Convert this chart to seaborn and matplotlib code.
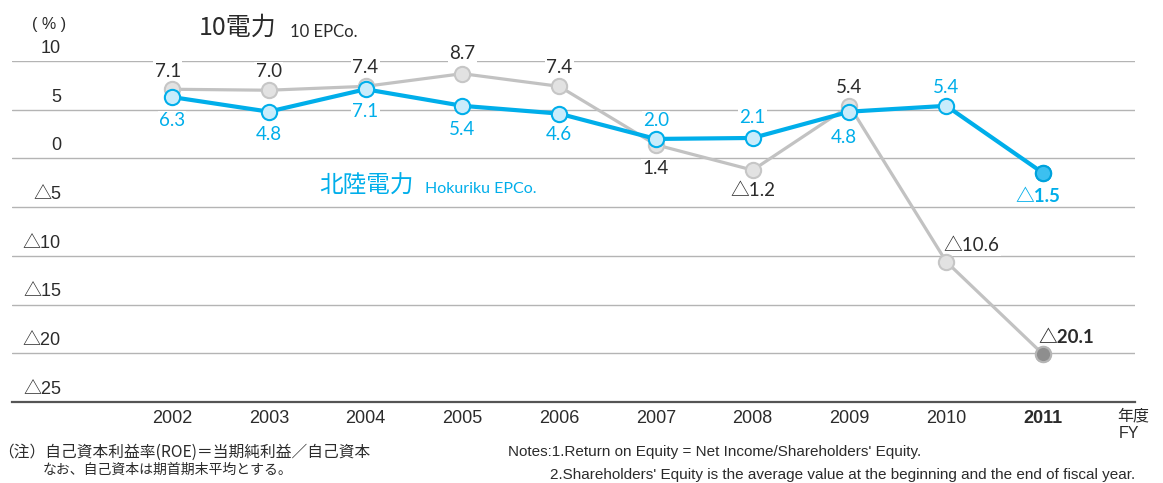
import matplotlib
matplotlib.use("Agg")
import matplotlib.pyplot as plt
import pandas as pd
import seaborn as sns

years = ["2002", "2003", "2004", "2005", "2006", "2007", "2008", "2009", "2010", "2011"]
epco_10 = [7.1, 7.0, 7.4, 8.7, 7.4, 1.4, -1.2, 5.4, -10.6, -20.1]
hokuriku = [6.3, 4.8, 7.1, 5.4, 4.6, 2.0, 2.1, 4.8, 5.4, -1.5]
y_ticks = [10, 5, 0, -5, -10, -15, -20, -25]

# label placement in points (dx, dy) relative to each marker
epco_offsets = [(-3, 13), (0, 13.5), (0, 13.5), (0, 14.5), (0, 13.5),
                (0, -17), (0, -14.5), (0, 13), (18, 11.5), (16.5, 12)]
hokuriku_offsets = [(0, -17), (0, -16.5), (0, -16), (0, -17), (0, -15),
                    (0, 13), (0, 14.5), (-4, -18.5), (0, 13.5), (-4, -17)]

BLUE = "#00aeea"
GRAY = "#c2c2c2"
DARK = "#2b2b2b"
JP = ["Noto Sans CJK JP", "DejaVu Sans"]

sns.set_style("white")
plt.rcParams["font.family"] = ["Lato", "Noto Sans CJK JP", "DejaVu Sans"]


def fmt(v):
    return f"△{abs(v):.1f}" if v < 0 else f"{v:.1f}"


W, H = 1163, 483
fig = plt.figure(figsize=(W / 100, H / 100), dpi=100)
ax = fig.add_axes([12 / W, 81 / H, 1123 / W, 341 / H])

df = pd.DataFrame({"pos": range(len(years)), "epco": epco_10, "hokuriku": hokuriku})

sns.lineplot(data=df, x="pos", y="epco", ax=ax, color=GRAY, lw=2.3, marker="o",
             markersize=11, markerfacecolor="#e2e2e2", markeredgecolor="#c6c6c6",
             markeredgewidth=1.5, zorder=4)
sns.lineplot(data=df, x="pos", y="hokuriku", ax=ax, color=BLUE, lw=3, marker="o",
             markersize=11, markerfacecolor="#c9ecfb", markeredgecolor=BLUE,
             markeredgewidth=1.5, zorder=5)
last = df.tail(1)
sns.scatterplot(data=last, x="pos", y="epco", ax=ax, s=120, color="#8e8e8e",
                edgecolor="#b5b5b5", linewidth=1.5, zorder=6)
sns.scatterplot(data=last, x="pos", y="hokuriku", ax=ax, s=120, color="#3cc0f0",
                edgecolor="#00a2dc", linewidth=1.5, zorder=6)

ax.set_xlim(-1.653, 9.95)
ax.set_ylim(-25, 10)
ax.set_yticks(y_ticks)
ax.set_yticklabels([])
ax.tick_params(axis="y", length=0)
ax.yaxis.grid(True, color="#b4b4b4", lw=1)
ax.set_axisbelow(True)
for side in ["top", "left", "right"]:
    ax.spines[side].set_visible(False)
ax.spines["bottom"].set_color("#555555")
ax.spines["bottom"].set_linewidth(1.6)
ax.set_xlabel("")
ax.set_ylabel("")

ax.set_xticks(range(len(years)))
ax.set_xticklabels(years, fontsize=13, family="Liberation Sans", color=DARK)
ax.get_xticklabels()[-1].set_fontweight("bold")
ax.tick_params(axis="x", length=0, pad=6)

for v in y_ticks:
    ax.annotate(fmt(v).replace(".0", ""), (-1.147, v), xytext=(0, 3), textcoords="offset points",
                ha="right", va="bottom", fontsize=13, color=DARK,
                family=["Liberation Sans", "Noto Sans CJK JP"])

box = dict(facecolor="white", edgecolor="none", pad=1)
for i, v in enumerate(epco_10):
    bold = i == len(years) - 1
    ax.annotate(fmt(v), (i, v), xytext=epco_offsets[i], textcoords="offset points",
                ha="center", va="center", fontsize=13.5, color=DARK,
                fontweight="bold" if bold else "normal", bbox=box, zorder=3)
for i, v in enumerate(hokuriku):
    bold = i == len(years) - 1
    ax.annotate(fmt(v), (i, v), xytext=hokuriku_offsets[i], textcoords="offset points",
                ha="center", va="center", fontsize=13.5, color=BLUE,
                fontweight="bold" if bold else "normal", bbox=box, zorder=3)


def px(x, y):
    return x / W, 1 - y / H


fig.text(*px(32, 25), "( % )", fontsize=11.5, color=DARK, family="Liberation Sans", va="center")
fig.text(*px(199, 28), "10電力", fontsize=18, color=DARK, family=JP, va="center")
fig.text(*px(290, 32), "10 EPCo.", fontsize=12, color=DARK, va="center")
fig.text(*px(319, 186), "北陸電力", fontsize=17, color=BLUE, family=JP, va="center")
fig.text(*px(425, 189), "Hokuriku EPCo.", fontsize=11.5, color=BLUE, va="center")
fig.text(*px(1117, 416), "年度", fontsize=11.5, color=DARK, family=JP, va="center")
fig.text(*px(1119, 434), "FY", fontsize=11.5, color=DARK, family="Liberation Sans", va="center")

fig.text(*px(-2, 452), "（注）自己資本利益率(ROE)＝当期純利益／自己資本", fontsize=11.3,
         color=DARK, family=JP, va="center")
fig.text(*px(43, 470), "なお、自己資本は期首期末平均とする。", fontsize=10,
         color=DARK, family=JP, va="center")
fig.text(*px(508, 452), "Notes:1.Return on Equity = Net Income/Shareholders' Equity.",
         fontsize=11, color=DARK, family="Liberation Sans", va="center")
fig.text(*px(550, 475), "2.Shareholders' Equity is the average value at the beginning and the end of fiscal year.",
         fontsize=11, color=DARK, family="Liberation Sans", va="center")

fig.savefig("out.png", dpi=100)
